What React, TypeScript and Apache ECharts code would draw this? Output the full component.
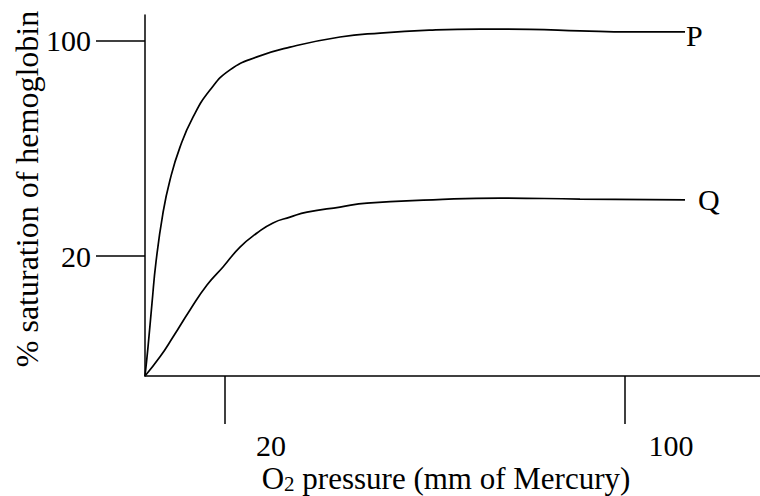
import React, { useEffect, useRef } from "react";
import * as echarts from "echarts";

// Schematic axis units (the reference drawing is not to scale)
const xTickValues = [16, 96];
const xTickLabels = ["20", "100"];
const yTickValues = [33.2, 92.8];
const yTickLabels = ["20", "100"];

const pPressure = [0, 0.6, 1.4, 2.2, 3.6, 5, 7, 9.6, 13, 17, 22.4, 29, 39, 47, 57, 67, 77, 87, 97, 108];
const pSaturation = [0, 8.0, 20.2, 31.6, 45.2, 54.3, 63.4, 71.7, 79.2, 84.8, 88.4, 91.1, 93.9, 95.0, 95.8, 96.1, 96.0, 95.6, 95.3, 95.3];

const qPressure = [0, 3, 5.6, 9, 12.4, 15.6, 19, 22.4, 25.6, 29, 32.4, 39, 44.4, 57.6, 71, 87, 108];
const qSaturation = [0, 5.3, 10.8, 18.3, 25.2, 30.2, 35.7, 39.6, 42.4, 44.0, 45.4, 46.8, 47.9, 48.8, 49.3, 49.0, 48.8];

const seriesNames = ["P", "Q"];
const xTitleMain = "O";
const xTitleSub = "2";
const xTitleRest = " pressure (mm of Mercury)";
const yTitle = "% saturation of hemoglobin";

const FONT = "'Liberation Serif', 'Times New Roman', serif";

function lookup(values: number[], labels: string[]) {
  return (v: number) => {
    const i = values.findIndex((t) => Math.abs(t - v) < 1e-6);
    return i >= 0 ? labels[i] : "";
  };
}

export default function App() {
  const ref = useRef<HTMLDivElement>(null);

  useEffect(() => {
    if (!ref.current) return;
    const chart = echarts.init(ref.current, null, { renderer: "svg" });
    const axisColor = "#000";
    const option: any = {
      animation: false,
      backgroundColor: "#fff",
      grid: { left: 145, right: 0, top: 15, bottom: 120, containLabel: false },
      xAxis: {
        type: "value",
        min: 0,
        max: 123,
        axisLine: { show: true, lineStyle: { color: axisColor, width: 1.5 } },
        axisTick: {
          show: true,
          customValues: xTickValues,
          length: 48,
          inside: false,
          lineStyle: { color: axisColor, width: 1.5 },
        },
        axisLabel: {
          show: true,
          customValues: xTickValues,
          formatter: lookup(xTickValues, xTickLabels),
          margin: 54,
          fontSize: 30,
          fontFamily: FONT,
          color: "#000",
          padding: [0, 0, 0, 92],
        },
        splitLine: { show: false },
      },
      yAxis: {
        type: "value",
        min: 0,
        max: 100,
        axisLine: { show: true, lineStyle: { color: axisColor, width: 1.5 } },
        axisTick: {
          show: true,
          customValues: yTickValues,
          length: 49,
          inside: false,
          lineStyle: { color: axisColor, width: 1.5 },
        },
        axisLabel: {
          show: true,
          customValues: yTickValues,
          formatter: lookup(yTickValues, yTickLabels),
          margin: 54,
          fontSize: 30,
          fontFamily: FONT,
          color: "#000",
        },
        splitLine: { show: false },
      },
      series: [
        {
          name: seriesNames[0],
          type: "line",
          showSymbol: false,
          smooth: 0.5,
          lineStyle: { color: "#000", width: 1.7 },
          data: pPressure.map((x, i) => [x, pSaturation[i]]),
          endLabel: {
            show: true,
            formatter: seriesNames[0],
            distance: 1,
            offset: [0, 4],
            fontSize: 30,
            fontFamily: FONT,
            color: "#000",
          },
        },
        {
          name: seriesNames[1],
          type: "line",
          showSymbol: false,
          smooth: 0.5,
          lineStyle: { color: "#000", width: 1.7 },
          data: qPressure.map((x, i) => [x, qSaturation[i]]),
          endLabel: {
            show: true,
            formatter: seriesNames[1],
            distance: 13,
            fontSize: 30,
            fontFamily: FONT,
            color: "#000",
          },
        },
      ],
      graphic: [
        {
          type: "text",
          x: 27,
          y: 189,
          rotation: Math.PI / 2,
          style: {
            text: yTitle,
            fontSize: 32,
            fontFamily: FONT,
            fill: "#000",
            align: "center",
            verticalAlign: "middle",
          },
        },
        {
          type: "text",
          x: 446,
          y: 478,
          style: {
            text: `{m|${xTitleMain}}{s|${xTitleSub}}{m|${xTitleRest}}`,
            align: "center",
            verticalAlign: "middle",
            fill: "#000",
            rich: {
              m: { fontSize: 31, fontFamily: FONT, fill: "#000" },
              s: { fontSize: 21, fontFamily: FONT, fill: "#000", padding: [12, 0, 0, 0] },
            },
          },
        },
      ],
    };
    chart.setOption(option);
    return () => chart.dispose();
  }, []);

  return (
    <div
      ref={ref}
      style={{ position: "fixed", left: 0, top: 0, width: 760, height: 496 }}
    />
  );
}
